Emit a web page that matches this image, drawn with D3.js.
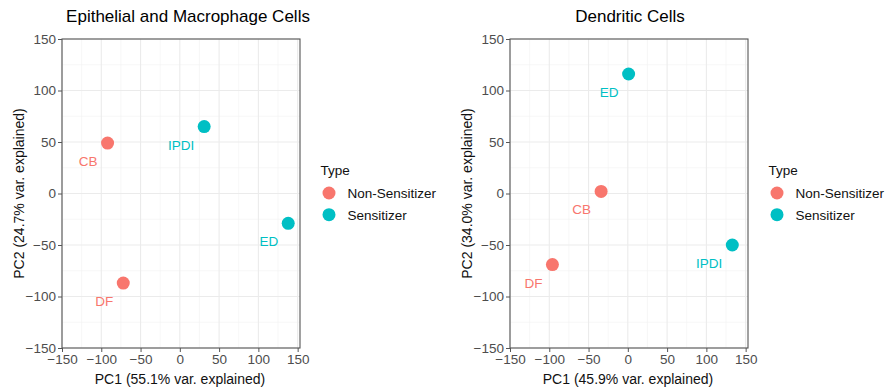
<!DOCTYPE html>
<html>
<head>
<meta charset="utf-8">
<script src="https://cdn.jsdelivr.net/npm/d3@7"></script>
<style>
  body { margin: 0; background: #fff; }
  svg { font-family: Arial, "Liberation Sans", sans-serif; }
</style>
</head>
<body>
<div id="chart"></div>
<script>
// data
const typeNames = ["Non-Sensitizer", "Sensitizer"];
const typeColors = ["#F8766D", "#00BFC4"];
const tickVals = [-150, -100, -50, 0, 50, 100, 150];

const epiSamples = ["CB", "IPDI", "ED", "DF"];
const epiTypes = ["Non-Sensitizer", "Sensitizer", "Sensitizer", "Non-Sensitizer"];
const epiPC1 = [-92, 31, 138, -72];
const epiPC2 = [49, 65, -29, -87];

const dcSamples = ["ED", "CB", "DF", "IPDI"];
const dcTypes = ["Sensitizer", "Non-Sensitizer", "Non-Sensitizer", "Sensitizer"];
const dcPC1 = [1, -34, -96, 133];
const dcPC2 = [116, 2, -69, -50];

const svg = d3.select("#chart").append("svg")
    .attr("width", 888)
    .attr("height", 392);

const color = d3.scaleOrdinal().domain(typeNames).range(typeColors);

const drawPanel = (o) => {
    const x = d3.scaleLinear().domain([-150, 153]).range([o.left, o.right]);
    const y = d3.scaleLinear().domain([-150, 150]).range([348, 39]);
    const g = svg.append("g");

    // minor grid
    const minor = d3.range(-125, 151, 50);
    g.selectAll(".vmin").data(minor).enter().append("line")
        .attr("x1", d => x(d)).attr("x2", d => x(d))
        .attr("y1", y(-150)).attr("y2", y(150))
        .attr("stroke", "#f2f2f2").attr("stroke-width", 0.6);
    g.selectAll(".hmin").data(minor).enter().append("line")
        .attr("x1", o.left).attr("x2", o.right)
        .attr("y1", d => y(d)).attr("y2", d => y(d))
        .attr("stroke", "#f2f2f2").attr("stroke-width", 0.6);
    // major grid
    g.selectAll(".vmaj").data(tickVals).enter().append("line")
        .attr("x1", d => x(d)).attr("x2", d => x(d))
        .attr("y1", y(-150)).attr("y2", y(150))
        .attr("stroke", "#ebebeb").attr("stroke-width", 1.1);
    g.selectAll(".hmaj").data(tickVals).enter().append("line")
        .attr("x1", o.left).attr("x2", o.right)
        .attr("y1", d => y(d)).attr("y2", d => y(d))
        .attr("stroke", "#ebebeb").attr("stroke-width", 1.1);

    // border
    g.append("rect")
        .attr("x", o.left).attr("y", y(150))
        .attr("width", o.right - o.left).attr("height", y(-150) - y(150))
        .attr("fill", "none").attr("stroke", "#555").attr("stroke-width", 1.1);

    // axes
    const ax = g.append("g").attr("transform", `translate(0,${y(-150)})`)
        .call(d3.axisBottom(x).tickValues(tickVals).tickSize(4).tickSizeOuter(0).tickPadding(2));
    const ay = g.append("g").attr("transform", `translate(${o.left},0)`)
        .call(d3.axisLeft(y).tickValues(tickVals).tickSize(4).tickSizeOuter(0).tickPadding(2));
    [ax, ay].forEach(a => {
        a.select(".domain").remove();
        a.selectAll("line").attr("stroke", "#555");
        a.selectAll("text").attr("fill", "#4d4d4d").style("font-size", "13.5px")
            .style("font-family", "Arial, 'Liberation Sans', sans-serif");
    });

    // points
    const pts = o.samples.map((s, i) => ({name: s, type: o.types[i], pc1: o.pc1[i], pc2: o.pc2[i]}));
    g.selectAll(".pt").data(pts).enter().append("circle")
        .attr("cx", d => x(d.pc1)).attr("cy", d => y(d.pc2))
        .attr("r", 6.5)
        .attr("fill", d => color(d.type));
    g.selectAll(".lab").data(pts).enter().append("text")
        .attr("x", d => x(d.pc1) - 10).attr("y", d => y(d.pc2) + 23)
        .attr("text-anchor", "end")
        .attr("fill", d => color(d.type))
        .style("font-size", "13.5px")
        .text(d => d.name);

    // titles
    svg.append("text")
        .attr("x", o.titleX).attr("y", 22)
        .attr("text-anchor", "middle")
        .style("font-size", "17px").attr("fill", "#000")
        .text(o.title);
    svg.append("text")
        .attr("x", (o.left + o.right) / 2 - 1).attr("y", 384)
        .attr("text-anchor", "middle")
        .style("font-size", "14px").attr("fill", "#111")
        .text(o.xTitle);
    svg.append("text")
        .attr("transform", `translate(${o.left - 38},${(y(150) + y(-150)) / 2}) rotate(-90)`)
        .attr("text-anchor", "middle")
        .style("font-size", "14px").attr("fill", "#111")
        .text(o.yTitle);

    // legend
    const lg = svg.append("g").attr("transform", `translate(${o.legendX},0)`);
    lg.append("text").attr("x", 0).attr("y", 175)
        .style("font-size", "13.5px").attr("fill", "#111").text("Type");
    lg.selectAll(".lk").data(typeNames).enter().append("circle")
        .attr("cx", 8.5).attr("cy", (d, i) => 193 + i * 21.7)
        .attr("r", 6.5).attr("fill", d => color(d));
    lg.selectAll(".lt").data(typeNames).enter().append("text")
        .attr("x", 27).attr("y", (d, i) => 198 + i * 21.7)
        .style("font-size", "13.5px").attr("fill", "#111")
        .text(d => d);
};

drawPanel({
    left: 62, right: 300, titleX: 188,
    samples: epiSamples, types: epiTypes, pc1: epiPC1, pc2: epiPC2,
    title: "Epithelial and Macrophage Cells",
    xTitle: "PC1 (55.1% var. explained)",
    yTitle: "PC2 (24.7% var. explained)",
    legendX: 320.5
});
drawPanel({
    left: 510, right: 748, titleX: 630,
    samples: dcSamples, types: dcTypes, pc1: dcPC1, pc2: dcPC2,
    title: "Dendritic Cells",
    xTitle: "PC1 (45.9% var. explained)",
    yTitle: "PC2 (34.0% var. explained)",
    legendX: 768.5
});
</script>
</body>
</html>
